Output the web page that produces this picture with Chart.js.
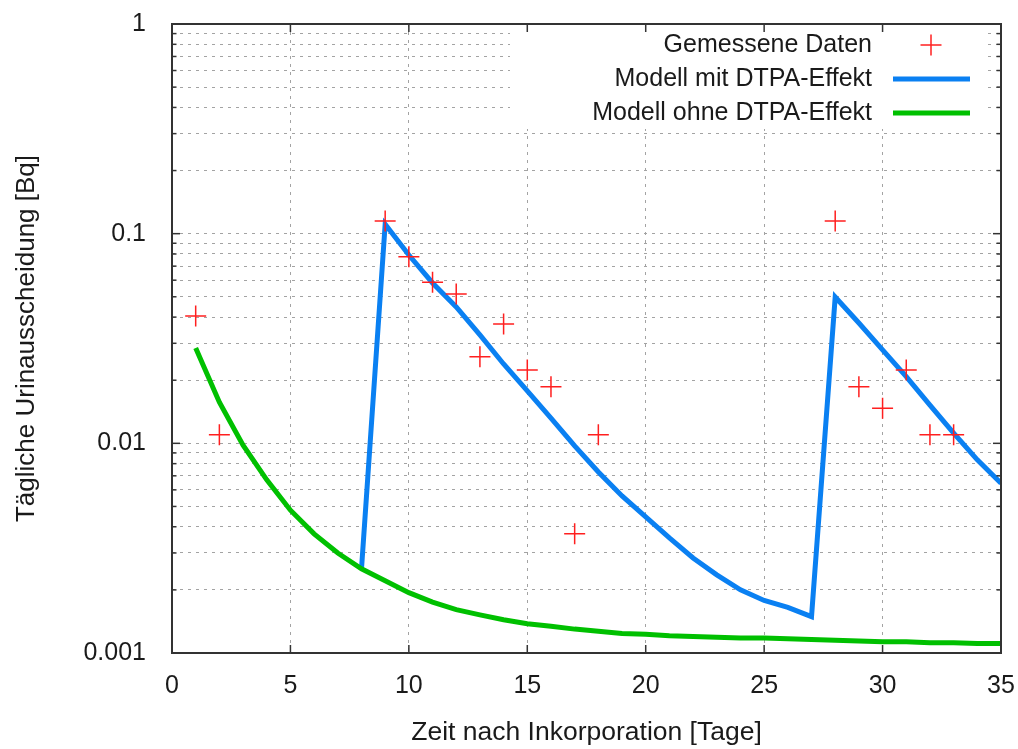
<!DOCTYPE html>
<html lang="de">
<head>
<meta charset="utf-8">
<title>Tägliche Urinausscheidung</title>
<script src="https://cdn.jsdelivr.net/npm/chart.js@4.4.1/dist/chart.umd.min.js"></script>
<style>
  html, body { margin: 0; padding: 0; background: #fff; }
</style>
</head>
<body>
<canvas id="chart" width="1018" height="749"></canvas>
<script>
// Messwerte (Tag, Bq)
const measuredDays = [1, 2, 9, 10, 11, 12, 13, 14, 15, 16, 17, 18, 28, 29, 30, 31, 32, 33];
const measuredValues = [0.0405, 0.011, 0.115, 0.0777, 0.0586, 0.0516, 0.0259, 0.0371, 0.0224, 0.0186,
                        0.0037, 0.011, 0.115, 0.0186, 0.0147, 0.0224, 0.011, 0.011];

// Modell mit DTPA-Effekt (zwei Gaben: Tag 8 und Tag 27)
const withDtpaDays = [8, 9, 10, 11, 12, 13, 14, 15, 16, 17, 18, 19, 20, 21, 22, 23, 24, 25, 26, 27,
                      28, 29, 30, 31, 32, 33, 34, 35];
const withDtpaValues = [0.00252, 0.111, 0.0791, 0.0582, 0.0447, 0.0329, 0.0239, 0.0178, 0.0132, 0.00972,
                        0.0073, 0.00561, 0.00446, 0.00354, 0.00284, 0.00236, 0.0020, 0.00178, 0.00165, 0.00149,
                        0.0499, 0.0375, 0.0279, 0.0208, 0.0152, 0.0112, 0.00834, 0.00645];

// Modell ohne DTPA-Effekt
const withoutDtpaDays = [1, 2, 3, 4, 5, 6, 7, 8, 9, 10, 11, 12, 13, 14, 15, 16, 17, 18,
                         19, 20, 21, 22, 23, 24, 25, 26, 27, 28, 29, 30, 31, 32, 33, 34, 35];
const withoutDtpaValues = [0.0285, 0.0157, 0.0098, 0.0067, 0.0048, 0.0037, 0.0030, 0.00252, 0.00221, 0.00194,
                           0.00175, 0.00161, 0.00152, 0.00144, 0.00138, 0.00134, 0.0013, 0.00127, 0.00124, 0.00123,
                           0.00121, 0.0012, 0.00119, 0.00118, 0.00118, 0.00117, 0.00116, 0.00115, 0.00114, 0.00113,
                           0.00113, 0.00112, 0.00112, 0.00111, 0.00111];

// Achsen
const xTickValues = [0, 5, 10, 15, 20, 25, 30, 35];
const yMajorValues = [0.001, 0.01, 0.1, 1];
const yTickLabels = ['0.001', '0.01', '0.1', '1'];
const yMinorFactors = [2, 3, 4, 5, 6, 7, 8, 9];

const yGridValues = [];
yMajorValues.forEach((d, i) => {
  yGridValues.push(d);
  if (i < yMajorValues.length - 1) {
    yMinorFactors.forEach(m => yGridValues.push(Number((d * m).toPrecision(3))));
  }
});

const toPoints = (xs, ys) => xs.map((x, i) => ({ x: x, y: ys[i] }));

const TEXT_COLOR = '#1a1a1a';
const FONT = '"Liberation Sans", Arial, sans-serif';

Chart.defaults.font.family = FONT;
Chart.defaults.font.size = 25;
Chart.defaults.color = TEXT_COLOR;

// ========================================
// Rahmen, Ticks nach innen, Legende
// ========================================
const frameAndKey = {
  id: 'frameAndKey',
  afterDatasetsDraw(chart) {
    const ctx = chart.ctx;
    const { left, right, top, bottom } = chart.chartArea;
    const xs = chart.scales.x;
    const ys = chart.scales.y;

    ctx.save();

    // Legendenfeld deckt das Gitter ab
    ctx.fillStyle = '#ffffff';
    ctx.fillRect(right - 491, top + 1, 473, 104);

    const line = (x1, y1, x2, y2) => {
      ctx.beginPath();
      ctx.moveTo(x1, y1);
      ctx.lineTo(x2, y2);
      ctx.stroke();
    };

    ctx.strokeStyle = '#333333';
    ctx.lineWidth = 1.5;
    xTickValues.forEach(v => {
      const px = xs.getPixelForValue(v);
      line(px, bottom, px, bottom - 8);
      line(px, top, px, top + 8);
    });
    ys.ticks.forEach(t => {
      const py = ys.getPixelForValue(t.value);
      const len = yMajorValues.includes(t.value) ? 8 : 4.5;
      line(left, py, left + len, py);
      line(right, py, right - len, py);
    });

    ctx.lineWidth = 2;
    ctx.strokeRect(left, top, right - left, bottom - top);

    // Legende: Text rechtsbuendig, Symbol rechts daneben
    ctx.font = '25px ' + FONT;
    ctx.textAlign = 'right';
    ctx.textBaseline = 'middle';
    const textRight = right - 129;
    const sampleX1 = right - 108;
    const sampleX2 = right - 31;
    const sampleMid = right - 70;
    chart.data.datasets.forEach((ds, i) => {
      const y = top + 21 + i * 34;
      ctx.fillStyle = TEXT_COLOR;
      ctx.fillText(ds.label, textRight, y);
      if (ds.showLine) {
        ctx.strokeStyle = ds.borderColor;
        ctx.lineWidth = ds.borderWidth;
        line(sampleX1, y, sampleX2, y);
      } else {
        ctx.strokeStyle = ds.pointBorderColor;
        ctx.lineWidth = ds.pointBorderWidth;
        const r = ds.pointRadius;
        line(sampleMid - r, y, sampleMid + r, y);
        line(sampleMid, y - r, sampleMid, y + r);
      }
    });

    ctx.restore();
  }
};

const ctx = document.getElementById('chart').getContext('2d');

new Chart(ctx, {
  type: 'scatter',
  data: {
    datasets: [
      {
        label: 'Gemessene Daten',
        data: toPoints(measuredDays, measuredValues),
        showLine: false,
        pointStyle: 'cross',
        pointRadius: 10.5,
        pointBorderColor: '#ff1f1f',
        pointBorderWidth: 1.5,
        order: 0
      },
      {
        label: 'Modell mit DTPA-Effekt',
        data: toPoints(withDtpaDays, withDtpaValues),
        showLine: true,
        borderColor: '#0a80f2',
        borderWidth: 5,
        pointRadius: 0,
        tension: 0,
        order: 2
      },
      {
        label: 'Modell ohne DTPA-Effekt',
        data: toPoints(withoutDtpaDays, withoutDtpaValues),
        showLine: true,
        borderColor: '#00c000',
        borderWidth: 5,
        pointRadius: 0,
        tension: 0,
        order: 1
      }
    ]
  },
  options: {
    responsive: false,
    animation: false,
    devicePixelRatio: 1,
    layout: { padding: { top: 24, right: 17, left: 0, bottom: 0 } },
    plugins: {
      legend: { display: false },
      tooltip: { enabled: false }
    },
    scales: {
      x: {
        type: 'linear',
        min: 0,
        max: 35,
        afterFit(scale) {
          scale.height = 96;
          scale.paddingLeft = 0;
          scale.paddingRight = 0;
        },
        afterBuildTicks(scale) {
          scale.ticks = xTickValues.map(v => ({ value: v }));
        },
        ticks: {
          padding: 18,
          autoSkip: false,
          maxRotation: 0,
          color: TEXT_COLOR,
          callback: v => String(v)
        },
        grid: { color: '#a3a3a3', lineWidth: 1, drawTicks: false },
        border: { display: false, dash: [3, 5] },
        title: {
          display: true,
          text: 'Zeit nach Inkorporation [Tage]',
          color: TEXT_COLOR,
          font: { size: 26.5 },
          padding: { top: 0, bottom: 0 }
        }
      },
      y: {
        type: 'logarithmic',
        min: 0.001,
        max: 1,
        afterFit(scale) {
          scale.width = 172;
          scale.paddingTop = 0;
          scale.paddingBottom = 0;
        },
        afterBuildTicks(scale) {
          scale.ticks = yGridValues.map(v => ({ value: v }));
        },
        ticks: {
          padding: 26,
          autoSkip: false,
          color: TEXT_COLOR,
          callback: v => {
            const i = yMajorValues.indexOf(v);
            return i >= 0 ? yTickLabels[i] : '';
          }
        },
        grid: { color: '#a3a3a3', lineWidth: 1, drawTicks: false },
        border: { display: false, dash: [3, 5] },
        title: {
          display: true,
          text: 'Tägliche Urinausscheidung [Bq]',
          color: TEXT_COLOR,
          font: { size: 26 },
          padding: { top: 11, bottom: 0 }
        }
      }
    }
  },
  plugins: [frameAndKey]
});
</script>
</body>
</html>
